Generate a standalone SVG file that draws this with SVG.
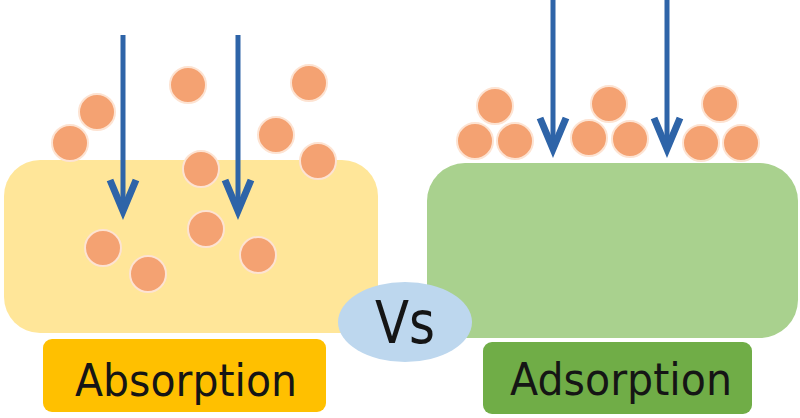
<svg xmlns="http://www.w3.org/2000/svg" width="800" height="418" viewBox="0 0 800 418">
<style>
.p{fill:#f4a272;stroke:#fde3d2;stroke-width:2}
.arrow{fill:none;stroke:#2e64a8;stroke-width:5}
.lbl{font-family:"DejaVu Sans","Liberation Sans",sans-serif;fill:#151515}
</style>
<defs>
<marker id="ah" markerUnits="userSpaceOnUse" viewBox="-45 -20 55 40" markerWidth="55" markerHeight="40" refX="0" refY="0" orient="auto" overflow="visible">
<path d="M-31,-13 L0,0 L-31,13" fill="none" stroke="#2e64a8" stroke-width="7" stroke-linejoin="miter"/>
</marker>
</defs>
<rect width="800" height="418" fill="#ffffff"/>
<g id="absorbent">
<rect x="4" y="160" width="374" height="173" rx="36" fill="#ffe699"/>
</g>
<g id="adsorbent">
<rect x="427" y="163" width="371" height="175" rx="38" fill="#a9d18e"/>
</g>
<g id="vs">
<ellipse cx="405" cy="322" rx="67" ry="40" fill="#bdd7ee"/>
<text class="lbl" x="405" y="343" font-size="58" text-anchor="middle" textLength="60" lengthAdjust="spacingAndGlyphs">Vs</text>
</g>
<g id="absorption-label">
<rect x="43" y="339" width="283" height="73" rx="9" fill="#ffc000"/>
<text class="lbl" x="186" y="396" font-size="44" text-anchor="middle" textLength="222" lengthAdjust="spacingAndGlyphs">Absorption</text>
</g>
<g id="adsorption-label">
<rect x="483" y="342" width="269" height="72" rx="9" fill="#70ad47"/>
<text class="lbl" x="621" y="395" font-size="44" text-anchor="middle" textLength="222" lengthAdjust="spacingAndGlyphs">Adsorption</text>
</g>
<g id="particles-absorption">
<circle class="p" cx="97" cy="112" r="18"/>
<circle class="p" cx="70" cy="143" r="18"/>
<circle class="p" cx="188" cy="85" r="18"/>
<circle class="p" cx="309" cy="83" r="18"/>
<circle class="p" cx="276" cy="135" r="18"/>
<circle class="p" cx="318" cy="161" r="18"/>
<circle class="p" cx="201" cy="169" r="18"/>
<circle class="p" cx="103" cy="248" r="18"/>
<circle class="p" cx="148" cy="274" r="18"/>
<circle class="p" cx="206" cy="229" r="18"/>
<circle class="p" cx="258" cy="255" r="18"/>
</g>
<g id="particles-adsorption">
<circle class="p" cx="495" cy="106" r="18"/>
<circle class="p" cx="475" cy="141" r="18"/>
<circle class="p" cx="515" cy="141" r="18"/>
<circle class="p" cx="609" cy="104" r="18"/>
<circle class="p" cx="589" cy="138" r="18"/>
<circle class="p" cx="630" cy="139" r="18"/>
<circle class="p" cx="720" cy="104" r="18"/>
<circle class="p" cx="701" cy="143" r="18"/>
<circle class="p" cx="741" cy="143" r="18"/>
</g>
<g id="connectors">
<path class="arrow" d="M123,35 V211" marker-end="url(#ah)"/>
<path class="arrow" d="M238,35 V211" marker-end="url(#ah)"/>
<path class="arrow" d="M553,0 V149" marker-end="url(#ah)"/>
<path class="arrow" d="M667,0 V149" marker-end="url(#ah)"/>
</g>
</svg>
